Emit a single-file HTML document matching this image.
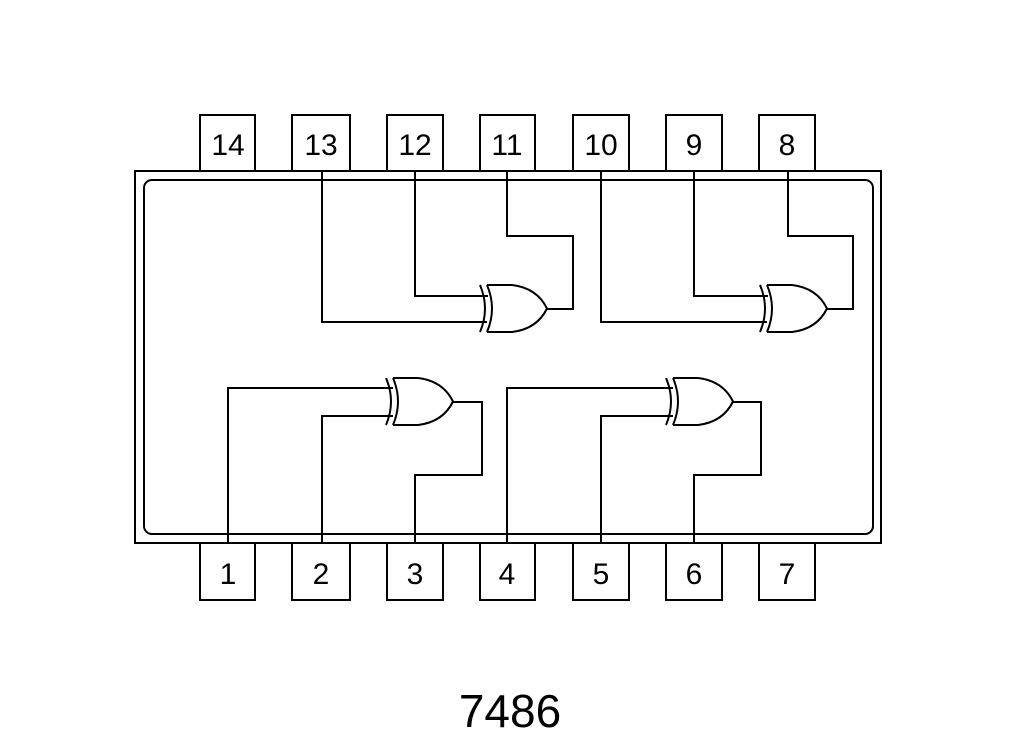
<!DOCTYPE html>
<html><head><style>
html,body{margin:0;padding:0;background:#fff;}
svg{display:block}
text{font-family:"Liberation Sans",sans-serif;fill:#000}
</style></head><body>
<svg width="1024" height="748" viewBox="0 0 1024 748" xmlns="http://www.w3.org/2000/svg">
<defs>
<g id="xor" fill="none" stroke="#000" stroke-width="2">
  <path d="M0,0 Q10,23.5 0,47"/>
  <path d="M-7,0 Q3,23.5 -7,47"/>
  <path d="M0,0 L25,0 Q50,3 60,23.5 Q50,44 25,47 L0,47"/>
</g>
</defs>
<g fill="none" stroke="#000" stroke-width="2">
<rect x="135" y="171" width="746" height="372"/>
<rect x="144" y="180" width="729" height="354" rx="8"/>
<!-- top pins -->
<rect x="200" y="115" width="55" height="56"/>
<rect x="292" y="115" width="58" height="56"/>
<rect x="387" y="115" width="56" height="56"/>
<rect x="480" y="115" width="55" height="56"/>
<rect x="573" y="115" width="56" height="56"/>
<rect x="666" y="115" width="56" height="56"/>
<rect x="759" y="115" width="56" height="56"/>
<!-- bottom pins -->
<rect x="200" y="543" width="55" height="57"/>
<rect x="292" y="543" width="58" height="57"/>
<rect x="387" y="543" width="56" height="57"/>
<rect x="480" y="543" width="55" height="57"/>
<rect x="573" y="543" width="56" height="57"/>
<rect x="666" y="543" width="56" height="57"/>
<rect x="759" y="543" width="56" height="57"/>
<!-- top gate 1 wires -->
<polyline points="322,171 322,322 487,322"/>
<polyline points="415,171 415,296 488,296"/>
<polyline points="507,171 507,236 573,236 573,309 546,309"/>
<!-- top gate 2 wires -->
<polyline points="601,171 601,322 767,322"/>
<polyline points="694,171 694,296 768,296"/>
<polyline points="788,171 788,236 853,236 853,309 826,309"/>
<!-- bottom gate 1 -->
<polyline points="228,543 228,388 393,388"/>
<polyline points="322,543 322,416 393,416"/>
<polyline points="415,543 415,475 482,475 482,402 453,402"/>
<!-- bottom gate 2 -->
<polyline points="507,543 507,388 673,388"/>
<polyline points="601,543 601,416 673,416"/>
<polyline points="694,543 694,475 761,475 761,402 733,402"/>
</g>
<use href="#xor" x="487" y="285"/>
<use href="#xor" x="767" y="285"/>
<use href="#xor" x="393" y="378"/>
<use href="#xor" x="673" y="378"/>
<g font-size="30" text-anchor="middle">
<text x="228" y="155">14</text>
<text x="321" y="155">13</text>
<text x="415" y="155">12</text>
<text x="507" y="155">11</text>
<text x="601" y="155">10</text>
<text x="694" y="155">9</text>
<text x="787" y="155">8</text>
<text x="228" y="584">1</text>
<text x="321" y="584">2</text>
<text x="415" y="584">3</text>
<text x="507" y="584">4</text>
<text x="601" y="584">5</text>
<text x="694" y="584">6</text>
<text x="787" y="584">7</text>
</g>
<text x="510" y="727" font-size="46" text-anchor="middle">7486</text>
</svg>
</body></html>
